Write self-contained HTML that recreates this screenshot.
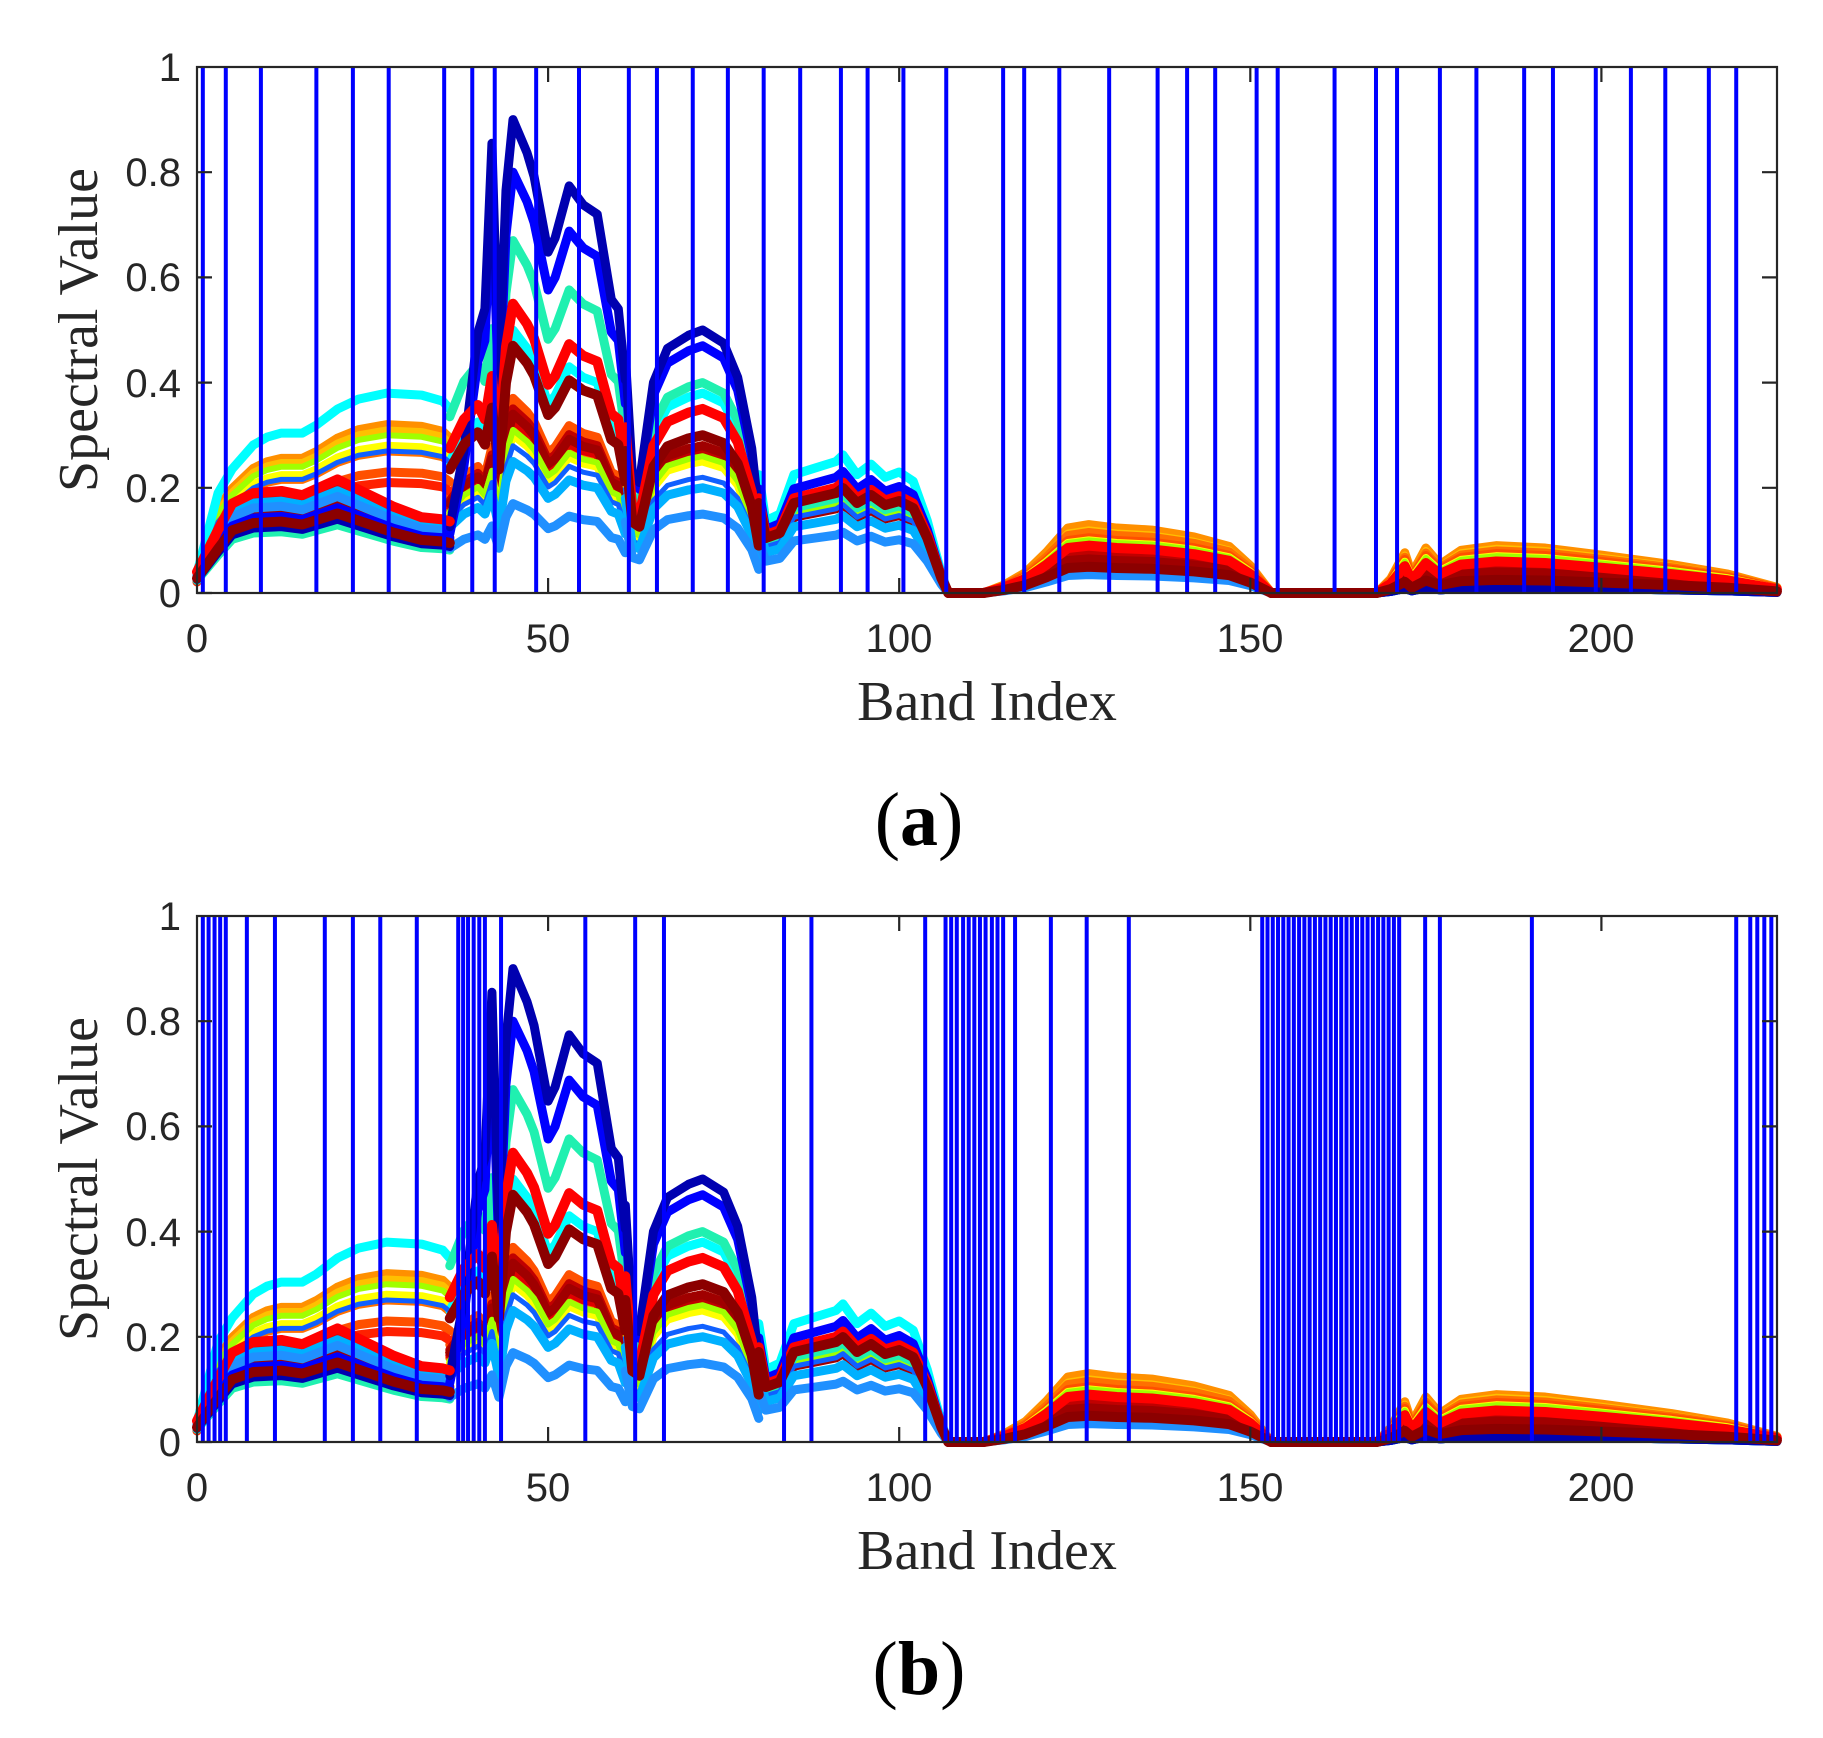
<!DOCTYPE html>
<html><head><meta charset="utf-8">
<style>
html,body{margin:0;padding:0;background:#fff;}
svg{display:block;}
.t{vector-effect:non-scaling-stroke;fill:none;stroke-linejoin:round;stroke-linecap:round;}
</style></head>
<body>
<svg width="1823" height="1738" xmlns="http://www.w3.org/2000/svg" xmlns:xlink="http://www.w3.org/1999/xlink">
<defs>
<path id="ai" class="t" d="M0,.1 L3,.5 5,.62 8,.74 10,.78 12,.8 15,.8 17,.84 20,.92 23,.97 27,1 32,.99 35,.96 36,.92"/>
<path id="ad" class="t" d="M0,.2 L3,.6 5,.85 8,.95 12,.97 15,.93 20,1.08 24,.95 28,.82 32,.72 35,.7 36,.68"/>
<path id="p" class="t" d="M36,.5 L38,.6 40,.65 41,.6 42,.75 43,.5 44,.85 45,1 47,.93 48,.88 50,.72 51,.75 53,.86 55,.82 57,.8 59,.62 60,.6 61,.45"/>
<path id="pb" class="t" d="M36,.14 L38,.3 40,.55 41,.6 42,.95 43,.45 44,.85 45,1 47,.93 48,.88 50,.72 51,.75 53,.86 55,.82 57,.8 59,.62 60,.6 61,.45"/>
<path id="q" class="t" d="M61,.9 L62,.45 63,.42 65,.8 67,.93 70,.98 72,1 75,.95 77,.82 79,.55 80,.3"/>
<path id="r" class="t" d="M80,.9 L81,.55 83,.6 85,.9 88,.95 91,1 92,1.05 94,.9 96,.98 98,.88 100,.92 102,.85 104,.55 106,.15 107,0"/>
<path id="tt" class="t" d="M107,0 L112,0 115,.12 118,.3 121,.6 124,.95 127,1 131,.95 136,.92 142,.82 147,.68 150,.4 153,0"/>
<path id="u" class="t" d="M153,0 L168,0 170,.3 172,.85 173,.4 175,.95 177,.6 180,.9 185,1 192,.95 200,.8 210,.6 218,.4 225,.12"/>
<g id="curves">
<g stroke="#ff9000" stroke-width="9"><use xlink:href="#ai" transform="scale(1,.32)"/><use xlink:href="#p" transform="scale(1,.34)"/><use xlink:href="#q" transform="scale(1,.28)"/><use xlink:href="#r" transform="scale(1,.17)"/><use xlink:href="#tt" transform="scale(1,.13)"/><use xlink:href="#u" transform="scale(1,.09)"/></g>
<g stroke="#ffc000" stroke-width="7"><use xlink:href="#ai" transform="scale(1,.31)"/><use xlink:href="#p" transform="scale(1,.31)"/><use xlink:href="#q" transform="scale(1,.26)"/><use xlink:href="#r" transform="scale(1,.17)"/><use xlink:href="#tt" transform="scale(1,.12)"/><use xlink:href="#u" transform="scale(1,.085)"/></g>
<g stroke="#ff7000" stroke-width="9"><use xlink:href="#ai" transform="scale(1,.27)"/><use xlink:href="#p" transform="scale(1,.32)"/><use xlink:href="#q" transform="scale(1,.26)"/><use xlink:href="#r" transform="scale(1,.18)"/><use xlink:href="#tt" transform="scale(1,.115)"/><use xlink:href="#u" transform="scale(1,.08)"/></g>
<g stroke="#ff5000" stroke-width="9"><use xlink:href="#ai" transform="scale(1,.23)"/><use xlink:href="#p" transform="scale(1,.37)"/><use xlink:href="#q" transform="scale(1,.28)"/><use xlink:href="#r" transform="scale(1,.18)"/><use xlink:href="#tt" transform="scale(1,.105)"/><use xlink:href="#u" transform="scale(1,.075)"/></g>
<g stroke="#ff2000" stroke-width="9"><use xlink:href="#ai" transform="scale(1,.21)"/><use xlink:href="#p" transform="scale(1,.34)"/><use xlink:href="#q" transform="scale(1,.27)"/><use xlink:href="#r" transform="scale(1,.18)"/><use xlink:href="#tt" transform="scale(1,.095)"/><use xlink:href="#u" transform="scale(1,.065)"/></g>
<g stroke="#e00000" stroke-width="9"><use xlink:href="#ad" transform="scale(1,.19)"/><use xlink:href="#p" transform="scale(1,.33)"/><use xlink:href="#q" transform="scale(1,.28)"/><use xlink:href="#r" transform="scale(1,.17)"/><use xlink:href="#tt" transform="scale(1,.085)"/><use xlink:href="#u" transform="scale(1,.06)"/></g>
<g stroke="#c00000" stroke-width="9"><use xlink:href="#ad" transform="scale(1,.17)"/><use xlink:href="#p" transform="scale(1,.35)"/><use xlink:href="#q" transform="scale(1,.27)"/><use xlink:href="#r" transform="scale(1,.17)"/><use xlink:href="#tt" transform="scale(1,.075)"/><use xlink:href="#u" transform="scale(1,.05)"/></g>
<g stroke="#a00000" stroke-width="9"><use xlink:href="#ad" transform="scale(1,.155)"/><use xlink:href="#p" transform="scale(1,.34)"/><use xlink:href="#q" transform="scale(1,.28)"/><use xlink:href="#r" transform="scale(1,.16)"/><use xlink:href="#tt" transform="scale(1,.065)"/><use xlink:href="#u" transform="scale(1,.04)"/></g>
<g stroke="#ffff00" stroke-width="8"><use xlink:href="#ai" transform="scale(1,.28)"/><use xlink:href="#p" transform="scale(1,.3)"/><use xlink:href="#q" transform="scale(1,.25)"/><use xlink:href="#r" transform="scale(1,.17)"/><use xlink:href="#tt" transform="scale(1,.1)"/><use xlink:href="#u" transform="scale(1,.07)"/></g>
<g stroke="#a0ff00" stroke-width="6"><use xlink:href="#ai" transform="scale(1,.3)"/><use xlink:href="#p" transform="scale(1,.31)"/><use xlink:href="#q" transform="scale(1,.26)"/><use xlink:href="#r" transform="scale(1,.17)"/><use xlink:href="#tt" transform="scale(1,.1)"/><use xlink:href="#u" transform="scale(1,.07)"/></g>
<g stroke="#00ffff" stroke-width="9"><use xlink:href="#ai" transform="scale(1,.38)"/><use xlink:href="#p" transform="scale(1,.5)"/><use xlink:href="#q" transform="scale(1,.38)"/><use xlink:href="#r" transform="scale(1,.25)"/><use xlink:href="#tt" transform="scale(1,.045)"/><use xlink:href="#u" transform="scale(1,.01)"/></g>
<g stroke="#20f0b0" stroke-width="9"><use xlink:href="#ad" transform="scale(1,.12)"/><use xlink:href="#p" transform="scale(1,.67)"/><use xlink:href="#q" transform="scale(1,.4)"/><use xlink:href="#r" transform="scale(1,.18)"/><use xlink:href="#tt" transform="scale(1,.04)"/><use xlink:href="#u" transform="scale(1,.01)"/></g>
<g stroke="#1060ff" stroke-width="5"><use xlink:href="#ai" transform="scale(1,.27)"/><use xlink:href="#p" transform="scale(1,.28)"/><use xlink:href="#q" transform="scale(1,.22)"/><use xlink:href="#r" transform="scale(1,.16)"/><use xlink:href="#tt" transform="scale(1,.045)"/><use xlink:href="#u" transform="scale(1,.012)"/></g>
<g stroke="#00b0ff" stroke-width="9"><use xlink:href="#ad" transform="scale(1,.18)"/><use xlink:href="#p" transform="scale(1,.25)"/><use xlink:href="#q" transform="scale(1,.2)"/><use xlink:href="#r" transform="scale(1,.14)"/><use xlink:href="#tt" transform="scale(1,.04)"/><use xlink:href="#u" transform="scale(1,.01)"/></g>
<g stroke="#2090ff" stroke-width="9"><use xlink:href="#ad" transform="scale(1,.17)"/><use xlink:href="#p" transform="scale(1,.17)"/><use xlink:href="#q" transform="scale(1,.15)"/><use xlink:href="#r" transform="scale(1,.11)"/><use xlink:href="#tt" transform="scale(1,.035)"/><use xlink:href="#u" transform="scale(1,.01)"/></g>
<g stroke="#0000ff" stroke-width="9"><use xlink:href="#ad" transform="scale(1,.15)"/><use xlink:href="#pb" transform="scale(1,.8)"/><use xlink:href="#q" transform="scale(1,.47)"/><use xlink:href="#r" transform="scale(1,.22)"/><use xlink:href="#tt" transform="scale(1,.05)"/><use xlink:href="#u" transform="scale(1,.01)"/></g>
<g stroke="#0000b0" stroke-width="9"><use xlink:href="#ad" transform="scale(1,.13)"/><use xlink:href="#pb" transform="scale(1,.9)"/><use xlink:href="#q" transform="scale(1,.5)"/><use xlink:href="#r" transform="scale(1,.2)"/><use xlink:href="#tt" transform="scale(1,.05)"/><use xlink:href="#u" transform="scale(1,.01)"/></g>
<g stroke="#ff0000" stroke-width="10"><use xlink:href="#ad" transform="scale(1,.2)"/><use xlink:href="#p" transform="scale(1,.55)"/><use xlink:href="#q" transform="scale(1,.35)"/><use xlink:href="#r" transform="scale(1,.2)"/><use xlink:href="#tt" transform="scale(1,.09)"/><use xlink:href="#u" transform="scale(1,.06)"/></g>
<g stroke="#8b0000" stroke-width="10"><use xlink:href="#ad" transform="scale(1,.14)"/><use xlink:href="#p" transform="scale(1,.47)"/><use xlink:href="#q" transform="scale(1,.3)"/><use xlink:href="#r" transform="scale(1,.19)"/><use xlink:href="#tt" transform="scale(1,.05)"/><use xlink:href="#u" transform="scale(1,.025)"/></g>
</g>
</defs>

<!-- Panel A -->
<g transform="translate(197,593) scale(7.022,-526)">
<use xlink:href="#curves"/>
<g stroke="#0000ff" stroke-width="4">
<path class="t" style="stroke-linecap:butt" d="M0.83,0V1M4.1,0V1M9.1,0V1M17,0V1M22.2,0V1M27.3,0V1M35.2,0V1M39.2,0V1M42.4,0V1M48.3,0V1M54.4,0V1M61.5,0V1M65.5,0V1M70.6,0V1M75.6,0V1M80.7,0V1M85.9,0V1M91.7,0V1M95.5,0V1M100.6,0V1M106.7,0V1M114.8,0V1M117.8,0V1M122.8,0V1M129.9,0V1M136.8,0V1M141,0V1M145,0V1M150.9,0V1M153.9,0V1M162,0V1M167.9,0V1M170.9,0V1M177,0V1M182.2,0V1M189,0V1M193.1,0V1M199.2,0V1M204.2,0V1M209.1,0V1M215.3,0V1M219.2,0V1"/>
</g>
</g>

<!-- Panel B -->
<g transform="translate(197,1442) scale(7.022,-526)">
<use xlink:href="#curves"/>
<g stroke="#0000ff" stroke-width="4">
<path class="t" style="stroke-linecap:butt" d="M0.83,0V1M1.65,0V1M2.5,0V1M3.3,0V1M4.1,0V1M7.1,0V1M11.1,0V1M18.2,0V1M22.2,0V1M26.1,0V1M31.3,0V1M37.2,0V1M37.9,0V1M38.6,0V1M39.4,0V1M40.2,0V1M41,0V1M43.3,0V1M55.3,0V1M62.4,0V1M66.5,0V1M83.6,0V1M87.5,0V1M103.7,0V1M106.6,0V1M107.4,0V1M108.2,0V1M109.1,0V1M109.9,0V1M110.7,0V1M111.5,0V1M112.3,0V1M113.2,0V1M114,0V1M114.8,0V1M116.5,0V1M121.6,0V1M126.7,0V1M132.7,0V1M151.7,0V1M152.45,0V1M153.2,0V1M153.95,0V1M154.7,0V1M155.45,0V1M156.2,0V1M156.95,0V1M157.7,0V1M158.45,0V1M159.2,0V1M159.95,0V1M160.7,0V1M161.45,0V1M162.2,0V1M162.95,0V1M163.7,0V1M164.45,0V1M165.2,0V1M165.95,0V1M166.7,0V1M167.45,0V1M168.2,0V1M168.95,0V1M169.7,0V1M170.45,0V1M171.2,0V1M174.9,0V1M177,0V1M190.1,0V1M219.2,0V1M221.2,0V1M222.2,0V1M223.2,0V1M224.2,0V1"/>
</g>
</g>

<!-- Frames and ticks -->
<g fill="none" stroke="#262626" stroke-width="2.2">
<rect x="197" y="67" width="1580" height="526"/>
<path d="M197,593h15M197,487.8h15M197,382.6h15M197,277.4h15M197,172.2h15M1777,487.8h-15M1777,382.6h-15M1777,277.4h-15M1777,172.2h-15M548.1,593v-15M899.2,593v-15M1250.3,593v-15M1601.4,593v-15M548.1,67v15M899.2,67v15M1250.3,67v15M1601.4,67v15"/>
<rect x="197" y="916" width="1580" height="526"/>
<path d="M197,1442h15M197,1336.8h15M197,1231.6h15M197,1126.4h15M197,1021.2h15M1777,1336.8h-15M1777,1231.6h-15M1777,1126.4h-15M1777,1021.2h-15M548.1,1442v-15M899.2,1442v-15M1250.3,1442v-15M1601.4,1442v-15M548.1,916v15M899.2,916v15M1250.3,916v15M1601.4,916v15"/>
</g>

<g font-family="Liberation Sans, sans-serif" font-size="40" fill="#262626" text-anchor="end">
<text x="181" y="607">0</text><text x="181" y="502">0.2</text><text x="181" y="397">0.4</text><text x="181" y="291">0.6</text><text x="181" y="186">0.8</text><text x="181" y="81">1</text>
<text x="181" y="1456">0</text><text x="181" y="1351">0.2</text><text x="181" y="1246">0.4</text><text x="181" y="1140">0.6</text><text x="181" y="1035">0.8</text><text x="181" y="930">1</text>
</g>
<g font-family="Liberation Sans, sans-serif" font-size="40" fill="#262626" text-anchor="middle">
<text x="197" y="652">0</text><text x="548" y="652">50</text><text x="899" y="652">100</text><text x="1250" y="652">150</text><text x="1601" y="652">200</text>
<text x="197" y="1501">0</text><text x="548" y="1501">50</text><text x="899" y="1501">100</text><text x="1250" y="1501">150</text><text x="1601" y="1501">200</text>
</g>
<g font-family="Liberation Serif, serif" font-size="56" fill="#262626" text-anchor="middle">
<text x="987" y="720">Band Index</text>
<text x="987" y="1569">Band Index</text>
<text transform="translate(97,330) rotate(-90)">Spectral Value</text>
<text transform="translate(97,1179) rotate(-90)">Spectral Value</text>
</g>
<g font-family="Liberation Serif, serif" font-size="76" fill="#000" text-anchor="middle">
<text x="919" y="845">(<tspan font-weight="bold">a</tspan>)</text>
<text x="919" y="1694">(<tspan font-weight="bold">b</tspan>)</text>
</g>
</svg>
</body></html>
